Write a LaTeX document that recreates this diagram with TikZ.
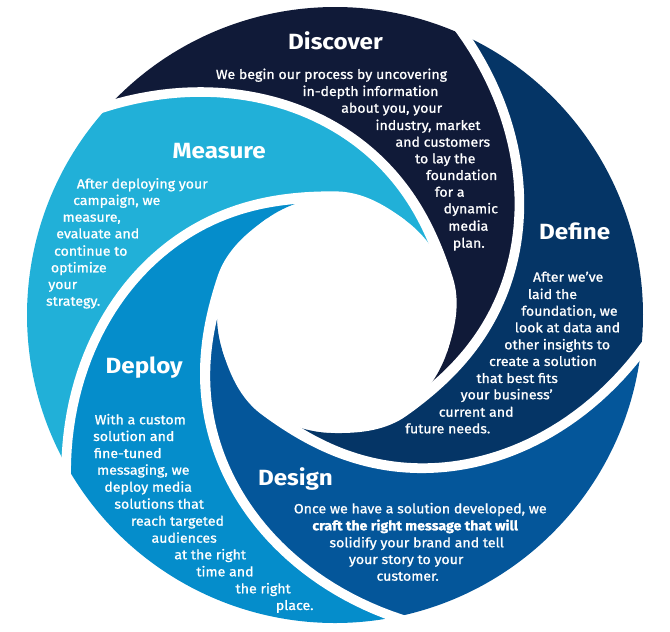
\documentclass[tikz,border=0pt]{standalone}
\usepackage{fontspec}
\setmainfont{Fira Sans}
\newfontfamily\swBodyFam{Fira Sans}[FakeBold=1, FakeStretch=1.065]
\newfontfamily\swTitleFam{Fira Sans}[FakeStretch=1.1]
\newcommand\swTitle{\swTitleFam\bfseries\fontsize{22}{26}\selectfont}
\newcommand\swBody{\swBodyFam\fontsize{13.3}{16.8}\selectfont}
\definecolor{cDisc}{HTML}{101A38}
\definecolor{cDef}{HTML}{053566}
\definecolor{cDes}{HTML}{04569A}
\definecolor{cDep}{HTML}{058DCB}
\definecolor{cMeas}{HTML}{21B0D8}
% segment: #1 = head angle, #2 = head angle of previous segment, #3 = colour
\newcommand\swSeg[3]{%
  \fill[#3] (#2:308) arc[start angle=#2, end angle=#1, radius=308pt]
    -- plot[domain=0:1, samples=60] ({#1-120*\x}:{118+190*(1-\x)^2})
    arc[start angle={#1-120}, end angle={#2-120}, radius=118pt]
    -- plot[domain=1:0, samples=60] ({#2-120*\x}:{118+190*(1-\x)^2})
    -- cycle;}
% white gap along a spiral, merging smoothly into the central hole
\newcommand\swGap[1]{%
  \fill[white] plot[domain=-0.06:1, samples=70] ({#1-120*\x}:{123.6+190*(1-\x)^2})
    -- plot[domain=1:1.3, samples=20] ({#1-120*\x}:{118+5.6*(1-((\x-1)/0.3)*((\x-1)/0.3)*(3-2*(\x-1)/0.3))})
    -- plot[domain=1:-0.06, samples=70] ({#1-120*\x}:{112.4+190*(1-\x)^2})
    -- cycle;}
\tikzset{
  ttl/.style={font=\swTitle, text=white, anchor=base, inner sep=0pt},
  txt/.style={font=\swBody, text=white, anchor=base, inner sep=0pt},
}
\begin{document}
\begin{tikzpicture}[x=1pt,y=1pt]
\useasboundingbox (-335,-317) rectangle (335,315);
\swSeg{65.2}{137.2}{cDisc}
\swSeg{-6.8}{65.2}{cDef}
\swSeg{-78.8}{-6.8}{cDes}
\swSeg{-150.8}{-78.8}{cDep}
\swSeg{-222.8}{-150.8}{cMeas}
\swGap{65.2}
\swGap{-6.8}
\swGap{-78.8}
\swGap{-150.8}
\swGap{-222.8}

% Discover
\node[ttl] (disc-t) at (0.5,265) {Discover};
\node[txt] (disc-1) at (-3.5,236) {We begin our process by uncovering};
\node[txt] (disc-2) at (35.5,219) {in-depth information};
\node[txt] (disc-3) at (56.7,202.3) {about you, your};
\node[txt] (disc-4) at (93,185) {industry, market};
\node[txt] (disc-5) at (107.8,168.3) {and customers};
\node[txt] (disc-6) at (110.3,151.7) {to lay the};
\node[txt] (disc-7) at (126.7,135) {foundation};
\node[txt] (disc-8) at (114.7,118.3) {for a};
\node[txt] (disc-9) at (135.8,101.7) {dynamic};
\node[txt] (disc-10) at (133.3,84.3) {media};
\node[txt] (disc-11) at (133.8,67.3) {plan.};

% Measure
\node[ttl] (meas-t) at (-115.8,156.7) {Measure};
\node[txt] (meas-1) at (-192.7,126.5) {After deploying your};
\node[txt] (meas-2) at (-218.2,110) {campaign, we};
\node[txt] (meas-3) at (-243.3,93.3) {measure,};
\node[txt] (meas-4) at (-237.2,76.7) {evaluate and};
\node[txt] (meas-5) at (-244.2,59.3) {continue to};
\node[txt] (meas-6) at (-256.2,42.7) {optimize};
\node[txt] (meas-7) at (-272.2,26) {your};
\node[txt] (meas-8) at (-261.8,9.3) {strategy.};

% Define
\node[ttl] (def-t) at (239.7,75.7) {Define};
\node[txt] (def-1) at (233.2,33.3) {After we’ve};
\node[txt] (def-2) at (217.5,16) {laid the};
\node[txt] (def-3) at (234.5,-0.7) {foundation, we};
\node[txt] (def-4) at (232.5,-17.3) {look at data and};
\node[txt] (def-5) at (222.2,-34.3) {other insights to};
\node[txt] (def-6) at (208,-51) {create a solution};
\node[txt] (def-7) at (182.2,-68) {that best fits};
\node[txt] (def-8) at (171.7,-84.3) {your business’};
\node[txt] (def-9) at (141.2,-101.7) {current and};
\node[txt] (def-10) at (112.8,-118.3) {future needs.};

% Deploy
\node[ttl] (dep-t) at (-190.8,-58.3) {Deploy};
\node[txt] (dep-1) at (-194.7,-109.3) {With a custom};
\node[txt] (dep-2) at (-201.2,-126) {solution and};
\node[txt] (dep-3) at (-207.2,-143) {fine-tuned};
\node[txt] (dep-4) at (-191.7,-159.7) {messaging, we};
\node[txt] (dep-5) at (-186.8,-176.7) {deploy media};
\node[txt] (dep-6) at (-175.8,-193.7) {solutions that};
\node[txt] (dep-7) at (-157.5,-210.7) {reach targeted};
\node[txt] (dep-8) at (-150.8,-227.7) {audiences};
\node[txt] (dep-9) at (-124.8,-244.3) {at the right};
\node[txt] (dep-10) at (-110,-261.3) {time and};
\node[txt] (dep-11) at (-71.8,-278.3) {the right};
\node[txt] (dep-12) at (-40.3,-295) {place.};

% Design
\node[ttl] (des-t) at (-39.5,-170) {Design};
\node[txt] (des-1) at (85.3,-198.3) {Once we have a solution developed, we};
\node[txt, font=\swBody\bfseries] (des-2) at (80.2,-215.3) {craft the right message that will};
\node[txt] (des-3) at (81.7,-232.3) {solidify your brand and tell};
\node[txt] (des-4) at (71.2,-249) {your story to your};
\node[txt] (des-5) at (72.7,-265.7) {customer.};
\end{tikzpicture}
\end{document}
